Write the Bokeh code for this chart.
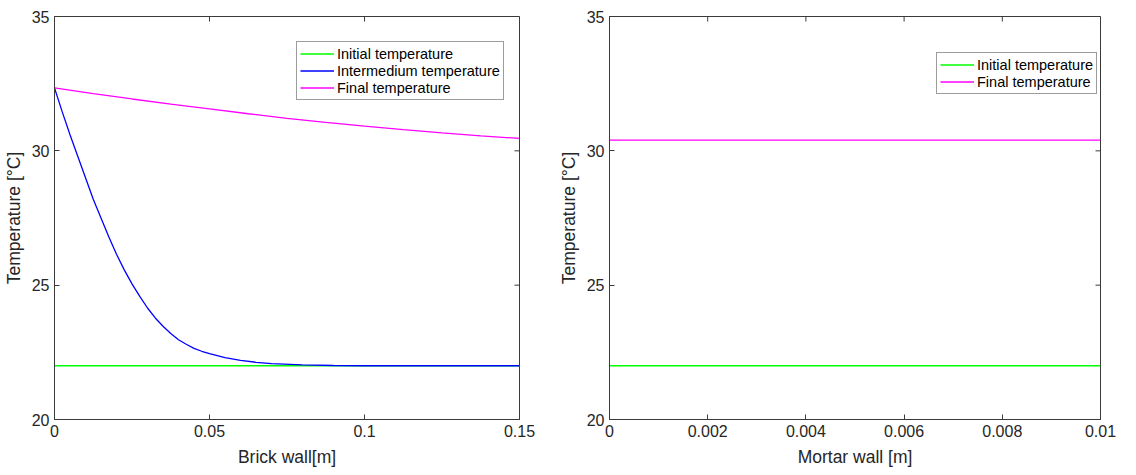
import math
from bokeh.plotting import figure
from bokeh.layouts import row
from bokeh.models import FixedTicker, Range1d, Legend, LegendItem
from bokeh.embed import file_html
from bokeh.resources import INLINE

# ---------------- data ----------------
brick_x = [0, 0.0025, 0.005, 0.0075, 0.01, 0.0125, 0.015, 0.0175, 0.02, 0.0225, 0.025, 0.0275,
           0.03, 0.0325, 0.035, 0.0375, 0.04, 0.0425, 0.045, 0.0475, 0.05, 0.055, 0.06, 0.065,
           0.07, 0.08, 0.09, 0.1, 0.11, 0.12, 0.13, 0.14, 0.15]
brick_intermediate = [32.34, 31.45, 30.6, 29.8, 29.0, 28.2, 27.5, 26.8, 26.15, 25.57, 25.05, 24.58,
                      24.15, 23.78, 23.47, 23.2, 22.97, 22.8, 22.65, 22.54, 22.45, 22.3, 22.2, 22.13,
                      22.08, 22.03, 22.01, 22.0, 22.0, 22.0, 22.0, 22.0, 22.0]
brick_initial_x = [0, 0.15]
brick_initial = [22.0, 22.0]
brick_final_x = [0, 0.0125, 0.025, 0.0375, 0.05, 0.0625, 0.075, 0.0875, 0.1, 0.1125, 0.125, 0.1375, 0.15]
brick_final = [32.34, 32.13, 31.93, 31.74, 31.56, 31.38, 31.21, 31.06, 30.92, 30.79, 30.67, 30.56, 30.46]

mortar_x = [0, 0.01]
mortar_initial = [22.0, 22.0]
mortar_final = [30.4, 30.4]

y_ticks = [20, 25, 30, 35]
y_tick_labels = ["20", "25", "30", "35"]
brick_ticks = [0, 0.05, 0.1, 0.15]
brick_tick_labels = ["0", "0.05", "0.1", "0.15"]
mortar_ticks = [0, 0.002, 0.004, 0.006, 0.008, 0.01]
mortar_tick_labels = ["0", "0.002", "0.004", "0.006", "0.008", "0.01"]

GREEN = "#00ff00"
BLUE = "#0000ff"
MAGENTA = "#ff00ff"
TXT = "#262626"
LINE = "#3a3a3a"
FONT = "Liberation Sans"


def style_axis(ax, ticks, labels, axis_label, label_standoff):
    ax.ticker = FixedTicker(ticks=ticks)
    ax.major_label_overrides = {t: l for t, l in zip(ticks, labels)}
    ax.major_tick_in = 5
    ax.major_tick_out = 0
    ax.minor_tick_line_color = None
    ax.axis_line_color = LINE
    ax.major_tick_line_color = LINE
    ax.major_label_text_font = FONT
    ax.major_label_text_color = TXT
    ax.major_label_text_font_size = "16px"
    ax.major_label_standoff = 5
    ax.axis_label = axis_label
    ax.axis_label_text_font = FONT
    ax.axis_label_text_font_size = "17.5px"
    ax.axis_label_text_font_style = "normal"
    ax.axis_label_text_color = TXT
    ax.axis_label_standoff = label_standoff


def make_fig(xr, xticks, xlabels, xlabel, fw, bl, br):
    p = figure(frame_width=fw, frame_height=403, x_range=Range1d(*xr), y_range=Range1d(20, 35),
               output_backend="svg", toolbar_location=None,
               min_border_left=bl, min_border_right=br, min_border_top=16, min_border_bottom=56,
               background_fill_color="white", border_fill_color="white")
    p.grid.visible = False
    p.outline_line_color = LINE
    style_axis(p.xaxis[0], xticks, xlabels, xlabel, 7)
    style_axis(p.yaxis[0], y_ticks, y_tick_labels, "Temperature [°C]", 5)
    # mirrored tick marks on the top and right edges of the box
    p.ray(x=xticks, y=[xr[1] * 0 + 35] * len(xticks), length=5, length_units="screen",
          angle=-math.pi / 2, line_color=LINE, line_width=1)
    p.ray(x=[xr[1]] * len(y_ticks), y=y_ticks, length=5, length_units="screen",
          angle=math.pi, line_color=LINE, line_width=1)
    return p


def make_legend(items, loc):
    lg = Legend(items=items, location=loc)
    lg.label_text_font = FONT
    lg.label_text_font_size = "14.5px"
    lg.label_text_color = "black"
    lg.glyph_width = 34
    lg.glyph_height = 17
    lg.label_height = 17
    lg.label_standoff = 3
    lg.spacing = 0
    lg.padding = 3
    lg.margin = 0
    lg.border_line_color = LINE
    lg.border_line_width = 1
    lg.background_fill_alpha = 1
    return lg


# ---- left: brick wall ----
p1 = make_fig((0, 0.15), brick_ticks, brick_tick_labels, "Brick wall[m]", 465, 54, 36)
r1 = p1.line(brick_initial_x, brick_initial, line_color=GREEN, line_width=1.3)
r2 = p1.line(brick_x, brick_intermediate, line_color=BLUE, line_width=1.3)
r3 = p1.line(brick_final_x, brick_final, line_color=MAGENTA, line_width=1.3)
lg1 = make_legend([LegendItem(label="Initial temperature", renderers=[r1]),
                   LegendItem(label="Intermedium temperature", renderers=[r2]),
                   LegendItem(label="Final temperature", renderers=[r3])], (242, 319))
p1.add_layout(lg1, "center")

# ---- right: mortar wall ----
p2 = make_fig((0, 0.01), mortar_ticks, mortar_tick_labels, "Mortar wall [m]", 491, 45, 35)
q1 = p2.line(mortar_x, mortar_initial, line_color=GREEN, line_width=1.3)
q2 = p2.line(mortar_x, mortar_final, line_color=MAGENTA, line_width=1.3)
lg2 = make_legend([LegendItem(label="Initial temperature", renderers=[q1]),
                   LegendItem(label="Final temperature", renderers=[q2])], (327, 325))
p2.add_layout(lg2, "center")

layout = row(p1, p2)
open("out.html", "w").write(file_html(layout, INLINE))
